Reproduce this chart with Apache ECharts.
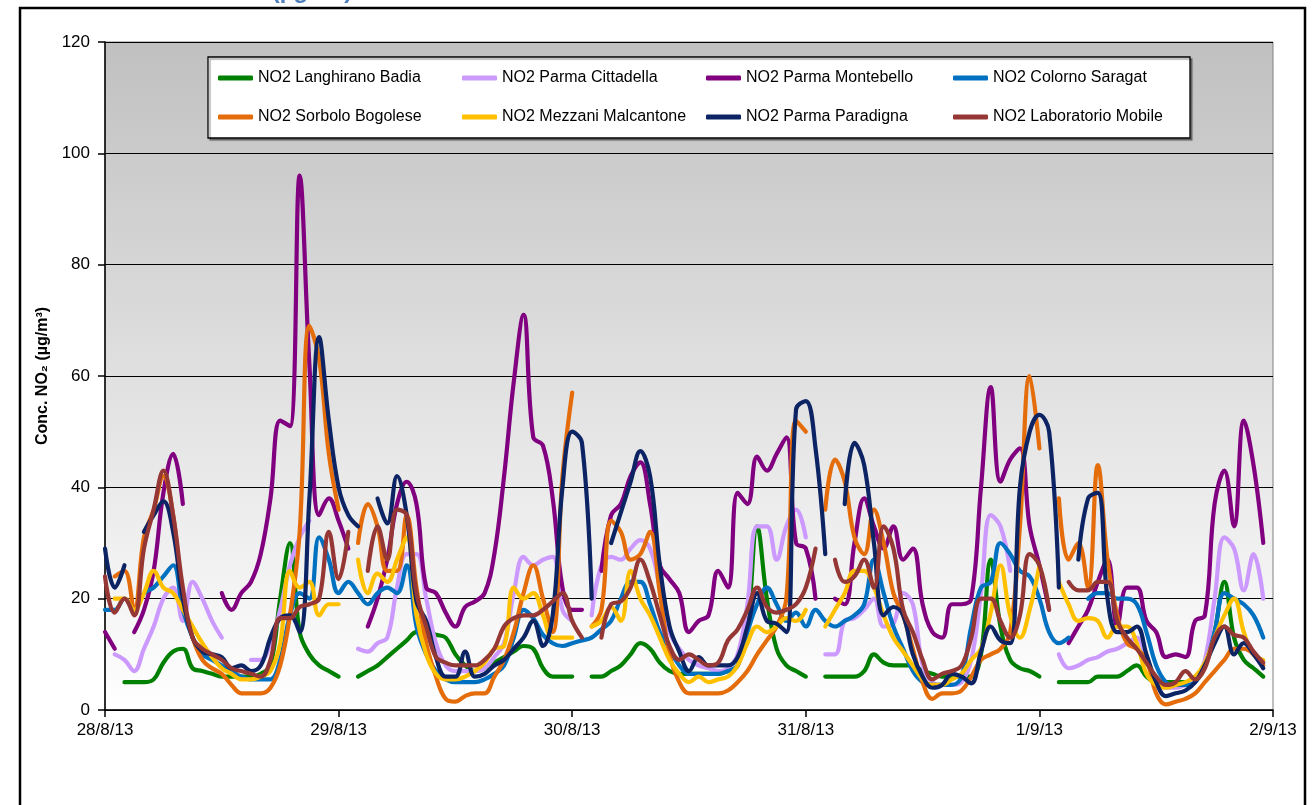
<!DOCTYPE html>
<html>
<head>
<meta charset="utf-8">
<script src="https://cdn.jsdelivr.net/npm/echarts@6/dist/echarts.min.js"></script>
<style>
  html, body { margin: 0; padding: 0; background: #ffffff; }
  #chart { width: 1312px; height: 805px; }
</style>
</head>
<body>
<div id="chart"></div>
<script>
// ---- data (hourly values, 28/8/13 00h ... 1/9/13 23h) ----
const dayLabels = ['28/8/13', '29/8/13', '30/8/13', '31/8/13', '1/9/13', '2/9/13'];
const seriesNames = ['NO2 Langhirano Badia', 'NO2 Parma Cittadella', 'NO2 Parma Montebello', 'NO2 Colorno Saragat',
                     'NO2 Sorbolo Bogolese', 'NO2 Mezzani Malcantone', 'NO2 Parma Paradigna', 'NO2 Laboratorio Mobile'];

const langhirano = [null,null,5,5,5,5.5,8.5,10.5,11,7.5, 7,6.5,6,6,6,6,6.5,8,20,30, 14,10,8,7,6,null,6,7,8,9.5,
  11,12.5,14,14,13.5,13,10,8,7,7.5, 8.5,9.5,10.5,11.5,11,7.5,6,6,6,null, 6,6,7,8,10,12,11,8.5,7,6.5,
  6.5,6.5,6.5,6.5,7,8,15,33,20,11, 8,7,6,null,6,6,6,6,7,10, 8.5,8,8,8,7,6.5,6,6,6,6,
  10,27,15,9,7.5,7,6,null,5,5, 5,5,6,6,6,7,8,6,5,5, 5,5,6,8,14,23,13,9,7.5,6];

const cittadella = [null,10,9,7,11,15,20,22,16,23, 20,16,13,null,null,9,9,12,18,26, 31,34,null,null,null,null,11,10.5,12,13,
  22,28,28,20,12,8,7,7,7,7.5, 9.5,12,21,27.5,26,27,27.5,18,16,null, 17,26,27.5,27,29,30.5,29,22,14,11,
  9,8,7.5,7,7.5,10,19,33,33,27, 33,36,31,null,10,10,16,16.5,18,20, 15,15.5,21,19,8,5,4.5,4.5,5,9,
  21,35,33,25,null,null,null,null,10,7.5, 8,9,9.5,10.5,11,12,13,9,5,4, 4,4.5,5.5,9,20,31,29,21.5,28,20];

const montebello = [14,11,null,14,18,25,39,46,37,null, null,null,21,18,21,23,28,38,52,51, 96,62,35,38,34,29,null,15,20,27,
  37,41,37,22,21,17.5,15,18.5,19.5,21, 28,42,59,71,49,47.5,38,22,18,18, null,25,35,37,42,44.5,37,26,23.5,21,
  14,16,17,25,22,39,37,45.5,43,46, 49,30,29,20,null,20,19,30,38,33, 29,33,27,29,19,14,13,19,19,20,
  40,58,41,45,47,33,26,18,null,12, 15,18,23,27,15,22,22,16,14,9.5, 10,9.5,16,17,37,43,33,52,44,30];

const colorno = [18,18,20,18,21,22,24,26,18,13, 10,9,8,7,6,5.5,5.5,5.5,9,17, 21,20,31,27,21,23,21,19,21,22,
  21,26,15,10,7,5.5,5,5,5,5.5, 6.5,8,13,18,16.5,13.5,12,11.5,12,12.5, 13,14.5,16,20,23,23,19,14,11,8,
  6.5,6.5,6.5,6.5,7,8,14,19,22,19, 16,17.5,15,18,16,15,16,17,19,27, 21,15,11,7,5,4.5,4.5,4.5,6,15,
  22,23,30,28,25,24,20,14,12,13, null,20,21,21,20,20,19,14,8,5, 4.5,4.5,5,8,14,21,20,19,17,13];

const sorbolo = [null,24,25,18,31,36,42,35,20,13, 9,7.5,6.5,4.5,3,3,3,4,8,17, 32,69,63,46,36,null,30,37,33,25,
  25,35,22,12,6,2,1.5,2.5,3,3, 6,9,14,21,26,20,14,42,57,null, 15,18,34,32,27,28,32,21,10,5,
  3,3,3,3,3.5,5,7,10,12.5,15, 20,52,50,null,36,45,41,31,28,36, 30,21,17,11,5,2,3,3,3.5,6,
  9,10,11,14,33,60,47,null,38,27, 30,22,44,27,17,12,11,9,3,1, 1.5,2,3,5,7,9,11,11,10,8];

const mezzani = [null,20,20,18,21,25,22,21,18,15, 12,9.5,7.5,6.5,5.5,5.5,6,7,12,25, 22,23,17,19,19,null,27,21,24.5,23,
  27,31,17,10,6.5,5.5,5.5,6,7,8.5, 11,11.5,22,20,21,17,13,13,13,null, 15,16,18.5,16,25,20,17,13,9,6.5,
  5,6,5,5.5,6,8,12,15,14,15, 16.5,16,18,null,15,18,21,25,25,22, 17,13,10.5,8,5.5,4.5,4.5,5.5,6.5,9,
  11,17.5,26,17,13,18,26,null,23,19, 16,16.5,16,13,15,15,12,6.5,4.5,4, 4.5,5,6,8.5,13,17,20,14,10,9];

const paradigna = [29,22,26,null,32,35,37.5,32,20,13, 10.5,10,9.5,7.5,8,7,8,13,16.5,17, 14,38,67,52,40,35,33,null,38,33.5,
  42,35,19.5,16,9.5,6,6,10.5,6,6.5, 8,9,11,13,16,11.5,17,40,50,48, 20,null,30,35.5,41,46.5,42,26,15,10.5,
  7,9.5,8,8,8,9.5,15,21,16,15.5, 14,54,55.5,47,28,null,37,48,44,30, 17,18.5,17,10,6,4,4.5,6.5,6,4.8,
  10.5,15,12.5,12,40,50,53,50,22,null, 27,38,39,20,14,14,15,10,5,2.5, 3,3.5,5,8,12,15,10,12,10,7.5];

const laboratorio = [24,17.5,20,17,29,36,43,35,22,13, 11,10,9,7.5,7,6.5,6,9,16.5,16.5, 18.5,19,20,32,23.5,32,null,25,33,27,
  36,35,21,15,9.5,8.5,8,8,8,9, 11,15,16.5,17,17,18,19.5,21,16,13, null,13,19,19.5,22,27,23,17,11.5,9,
  10,9,8,8.5,12.5,14.5,18,22,18.5,17.5, 18,19,22,29,null,27,23,24,27,22, 33,29,18,14,9,5.5,6.5,7,8,13,
  20,20,16,13,17,28,26,18,null,23, 21.5,21.5,23,23,16,13,11,8.5,6,4.5, 5,7,5.5,7.5,13,15,13.5,13,10.5,8.5];

const seriesValues = [langhirano, cittadella, montebello, colorno, sorbolo, mezzani, paradigna, laboratorio];
const seriesColors = ['#008000', '#CC99FF', '#800080', '#0070C0', '#E46C0A', '#FFC000', '#0C2464', '#953735'];

// ---- chart ----
const FONT = '"Liberation Sans", Arial, sans-serif';
const chart = echarts.init(document.getElementById('chart'), null, { renderer: 'canvas' });

const series = seriesNames.map((name, s) => ({
  name: name,
  type: 'line',
  data: seriesValues[s].map((v, h) => [h, v === null ? '-' : v]),
  showSymbol: false,
  symbol: 'none',
  smooth: 0.4,
  connectNulls: false,
  color: seriesColors[s],
  lineStyle: { width: 4.2, color: seriesColors[s], cap: 'round', join: 'round' },
  emphasis: { disabled: true },
  z: 2 + s * 0.01
}));

// legend placement (4 columns x 2 rows)
const legendCols = [218, 462, 706, 953];
const legendRows = [70, 109];
const legends = seriesNames.map((name, i) => ({
  data: [name],
  left: legendCols[i % 4],
  top: legendRows[Math.floor(i / 4)],
  padding: 0,
  itemWidth: 35,
  itemHeight: 5,
  itemGap: 0,
  icon: 'roundRect',
  selectedMode: false,
  z: 6,
  textStyle: { fontSize: 16, color: '#000', fontFamily: FONT, padding: [0, 0, 0, 0] }
}));

const option = {
  animation: false,
  backgroundColor: '#ffffff',
  textStyle: { fontFamily: FONT },
  grid: {
    left: 105, right: 39, top: 42, bottom: 95,
    show: true,
    borderColor: '#808080',
    borderWidth: 1,
    backgroundColor: {
      type: 'linear', x: 0, y: 0, x2: 0, y2: 1,
      colorStops: [
        { offset: 0, color: '#C0C0C0' },
        { offset: 0.5, color: '#E0E0E0' },
        { offset: 1, color: '#FFFFFF' }
      ]
    }
  },
  legend: legends,
  xAxis: {
    type: 'value',
    min: 0, max: 120, interval: 24,
    axisLine: { show: true, lineStyle: { color: '#000', width: 1.5 } },
    axisTick: { show: true, length: 7, lineStyle: { color: '#000', width: 1.5 } },
    splitLine: { show: false },
    axisLabel: {
      fontSize: 17, color: '#000', fontFamily: FONT, margin: 12,
      formatter: v => dayLabels[Math.round(v / 24)]
    }
  },
  yAxis: {
    type: 'value',
    min: 0, max: 120, interval: 20,
    name: 'Conc. NO\u2082 (µg/m\u00B3)',
    nameLocation: 'middle',
    nameRotate: 90,
    nameGap: 54,
    nameTextStyle: { fontSize: 16, fontWeight: 'bold', color: '#000', fontFamily: FONT },
    axisLine: { show: true, lineStyle: { color: '#000', width: 1.5 } },
    axisTick: { show: true, length: 7, lineStyle: { color: '#000', width: 1.5 } },
    splitLine: { show: true, lineStyle: { color: '#000', width: 1 } },
    axisLabel: { fontSize: 17, color: '#000', fontFamily: FONT, margin: 15 }
  },
  graphic: [
    { type: 'rect', z: 100, silent: true,
      shape: { x: 20, y: 8, width: 1285, height: 830 },
      style: { fill: 'none', stroke: '#000', lineWidth: 2.5 } },
    { type: 'rect', z: 3, silent: true,
      shape: { x: 208, y: 57, width: 982, height: 81 },
      style: { fill: '#fff', stroke: '#000', lineWidth: 1.3,
               shadowColor: 'rgba(0,0,0,0.35)', shadowOffsetX: 2, shadowOffsetY: 2, shadowBlur: 1 } },
    { type: 'text', z: 100, silent: true,
      x: 312, y: 3,
      style: { text: '(µg/m\u00B3)', fill: '#4F81BD', font: 'bold 24px ' + FONT,
               textAlign: 'center', textVerticalAlign: 'bottom' } }
  ],
  series: series
};

chart.setOption(option);
</script>
</body>
</html>
